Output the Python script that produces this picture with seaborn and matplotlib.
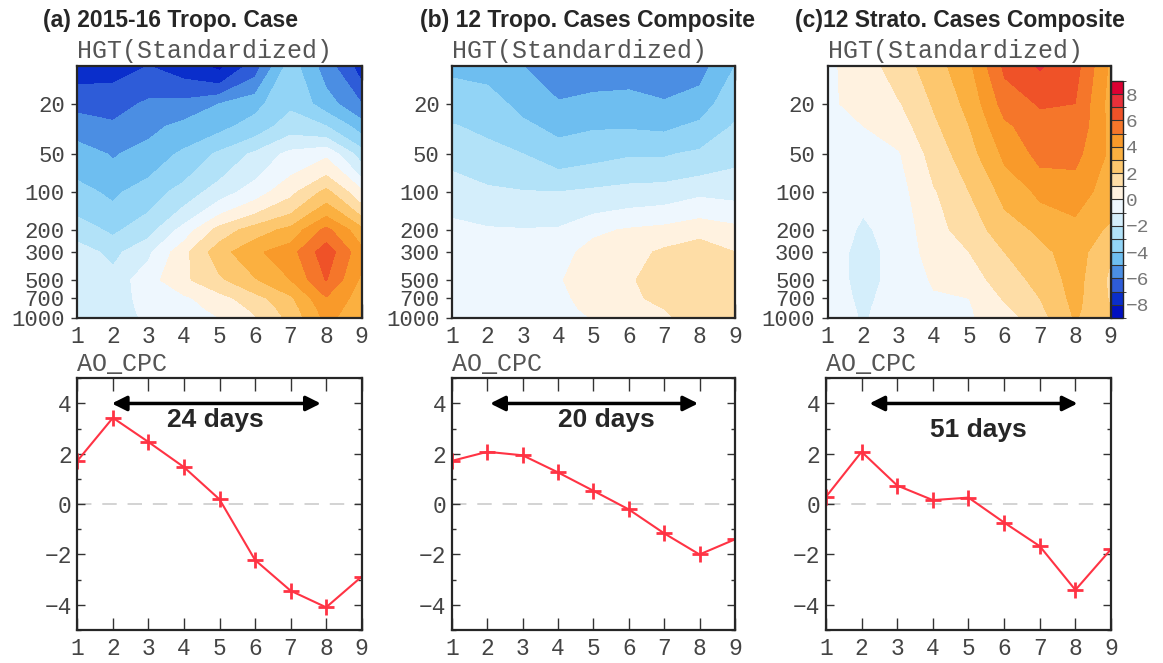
import numpy as np
import matplotlib
matplotlib.use("Agg")
import matplotlib.pyplot as plt
from matplotlib.colors import ListedColormap, BoundaryNorm
from matplotlib.ticker import FixedLocator, NullLocator, MultipleLocator
import seaborn as sns

# --- data -------------------------------------------------------------
days = [1, 2, 3, 4, 5, 6, 7, 8, 9]
levels = [1000, 850, 700, 500, 300, 200, 100, 50, 30, 20, 10]

# standardized HGT, rows = pressure levels (1000 -> 10 hPa), cols = days 1..9
hgt_a = [
    [-1.2, -1.8, -0.7, -0.3, 0.0, 0.9, 2.3, 4.3, 3.3],
    [-1.2, -1.7, -0.6, -0.3, 0.2, 1.2, 2.5, 4.5, 3.4],
    [-1.2, -1.5, -0.6, -0.2, 0.6, 1.6, 2.8, 4.9, 3.5],
    [-1.3, -1.6, -0.4, 0.8, 1.8, 2.9, 4.0, 6.05, 3.8],
    [-1.5, -2.3, -1.2, 0.7, 2.6, 3.8, 4.6, 6.6, 4.3],
    [-2.5, -3.2, -2.4, -0.6, 1.4, 2.5, 3.3, 5.3, 3.3],
    [-3.7, -4.2, -3.5, -2.6, -1.5, -0.5, 0.7, 2.3, 0.2],
    [-4.5, -5.1, -4.6, -3.8, -2.8, -1.8, -0.7, -0.2, -2.5],
    [-5.5, -5.8, -5.3, -4.7, -4.3, -3.6, -2.5, -3.0, -4.5],
    [-6.3, -6.5, -5.8, -5.7, -5.0, -4.3, -3.2, -4.5, -6.0],
    [-7.5, -7.3, -7.0, -7.5, -8.3, -6.5, -3.5, -5.5, -7.5],
]
hgt_b = [
    [-0.6, -0.6, -0.6, -0.4, 0.05, 0.5, 0.9, 1.3, 1.2],
    [-0.6, -0.6, -0.6, -0.4, 0.3, 0.7, 1.0, 1.4, 1.3],
    [-0.6, -0.6, -0.6, -0.3, 0.5, 0.85, 1.2, 1.5, 1.4],
    [-0.6, -0.6, -0.6, -0.1, 0.6, 0.9, 1.4, 1.6, 1.4],
    [-0.7, -0.7, -0.7, -0.4, 0.4, 0.6, 1.2, 1.5, 1.0],
    [-0.7, -0.9, -0.95, -0.9, -0.2, 0.1, 0.3, 0.7, 0.3],
    [-1.5, -1.8, -1.95, -2.0, -1.8, -1.6, -1.5, -1.2, -1.3],
    [-2.3, -2.7, -3.0, -3.5, -3.3, -3.1, -3.1, -2.8, -2.3],
    [-2.95, -3.2, -3.8, -4.3, -4.1, -4.1, -4.2, -3.8, -2.9],
    [-3.4, -3.6, -4.3, -4.9, -4.7, -4.6, -4.9, -4.5, -3.3],
    [-4.2, -4.3, -5.0, -5.7, -5.5, -5.5, -5.6, -5.4, -4.0],
]
hgt_c = [
    [-0.4, -1.1, -0.5, -0.4, -0.1, 0.5, 1.6, 3.1, 2.0],
    [-0.4, -1.15, -0.5, -0.3, -0.1, 0.8, 1.8, 3.2, 2.0],
    [-0.4, -1.25, -0.5, -0.1, 0.0, 1.1, 2.0, 3.3, 1.9],
    [-0.4, -1.4, -0.6, 0.1, 0.5, 1.5, 2.3, 3.4, 1.8],
    [-0.4, -1.4, -0.6, 0.4, 1.0, 2.0, 2.7, 3.5, 2.1],
    [-0.4, -1.15, -0.6, 0.6, 1.5, 2.5, 3.2, 3.7, 2.8],
    [-0.4, -0.8, -0.4, 0.9, 2.0, 3.3, 4.2, 4.4, 3.6],
    [-0.3, -0.3, -0.1, 1.4, 2.6, 4.2, 5.3, 5.3, 3.8],
    [-0.2, 0.0, 0.5, 1.8, 3.0, 4.8, 5.6, 5.8, 3.7],
    [-0.1, 0.2, 0.9, 2.1, 3.3, 5.4, 6.1, 6.0, 3.6],
    [-0.2, 0.5, 1.5, 2.5, 3.8, 6.2, 7.1, 6.4, 3.8],
]

ao_a = [1.72, 3.43, 2.47, 1.47, 0.19, -2.22, -3.44, -4.10, -2.88]
ao_b = [1.72, 2.08, 1.94, 1.26, 0.53, -0.21, -1.16, -2.00, -1.40]
ao_c = [0.29, 2.08, 0.74, 0.16, 0.26, -0.73, -1.67, -3.41, -1.79]

titles = ["(a) 2015-16 Tropo. Case", "(b) 12 Tropo. Cases Composite",
          "(c)12 Strato. Cases Composite"]
durations = ["24 days", "20 days", "51 days"]

p_ticks = [20, 50, 100, 200, 300, 500, 700, 1000]
cbar_ticks = [-8, -6, -4, -2, 0, 2, 4, 6, 8]
bounds = list(range(-9, 10))
colors = ["#0010C0", "#0A2ECB", "#2E5CD8", "#4B8EE3", "#6EBEF0", "#92D4F6",
          "#B2E2F8", "#D4EEFB", "#EEF7FE", "#FFF2E0", "#FEDDA6", "#FDC76E",
          "#FBB040", "#F99A2A", "#F5762A", "#EF5228", "#E8303A", "#DC0032"]

# --- style ------------------------------------------------------------
sns.set_style("ticks")
plt.rcParams["font.family"] = ["Liberation Mono", "DejaVu Sans"]
plt.rcParams["axes.linewidth"] = 1.6

cmap = ListedColormap(colors)
norm = BoundaryNorm(bounds, cmap.N)

fig = plt.figure(figsize=(11.63, 6.63), dpi=100)

top_pos = [[0.0665, 0.5204, 0.2445, 0.3805],
           [0.3889, 0.5204, 0.2431, 0.3805],
           [0.7117, 0.5204, 0.2432, 0.3805]]
bot_pos = [[0.0665, 0.0498, 0.2445, 0.3796],
           [0.3886, 0.0498, 0.2433, 0.3796],
           [0.7102, 0.0498, 0.2451, 0.3796]]
title_x = [0.037, 0.361, 0.6836]
arrow_span = [(1.97, 7.85), (2.08, 7.96), (2.22, 8.06)]
label_xy = [(4.87, 3.33), (5.37, 3.33), (5.29, 2.96)]

X, P = np.meshgrid(days, levels)
tick_col = "#444444"

for i, (field, ao) in enumerate(zip([hgt_a, hgt_b, hgt_c], [ao_a, ao_b, ao_c])):
    fig.text(title_x[i], 0.9588, titles[i], ha="left", va="baseline",
             fontfamily="Liberation Sans", fontweight="bold", fontsize=16.5)

    # height-time section
    ax = fig.add_axes(top_pos[i])
    cf = ax.contourf(X, P, np.array(field), levels=bounds, cmap=cmap, norm=norm)
    ax.set_yscale("log")
    ax.set_ylim(1000, 10)
    ax.set_xlim(1, 9)
    ax.yaxis.set_major_locator(FixedLocator(p_ticks))
    ax.yaxis.set_minor_locator(NullLocator())
    ax.set_yticklabels([str(p) for p in p_ticks])
    ax.set_xticks(days)
    ax.tick_params(axis="x", direction="in", top=True, length=10, width=1,
                   color="#333333", labelsize=16.5, labelcolor=tick_col, pad=5)
    ax.tick_params(axis="y", direction="out", length=4, width=1,
                   color="#333333", labelsize=16, labelcolor=tick_col, pad=5)
    ax.text(0, 1.029, "HGT(Standardized)", transform=ax.transAxes,
            ha="left", va="baseline", fontsize=18, color="#555555")

    # AO index
    ax2 = fig.add_axes(bot_pos[i])
    ax2.axhline(0, color="#d0d0d0", lw=1.3, dashes=(8, 6), zorder=0)
    sns.lineplot(x=days, y=ao, ax=ax2, color="#FF3344", lw=1.5, marker="+",
                 markersize=11, markeredgewidth=2, markeredgecolor="#FF3344")
    ax2.set_xlim(1, 9)
    ax2.set_ylim(-5, 5)
    ax2.set_xticks(days)
    ax2.set_yticks([-4, -2, 0, 2, 4])
    ax2.yaxis.set_minor_locator(MultipleLocator(1))
    ax2.tick_params(axis="x", direction="in", top=True, length=9, width=1,
                    color="#333333", labelsize=16.5, labelcolor=tick_col, pad=5)
    ax2.tick_params(axis="y", which="major", direction="in", right=True,
                    length=6, width=1, color="#333333", labelsize=16.5,
                    labelcolor=tick_col, pad=4)
    ax2.tick_params(axis="y", which="minor", direction="in", right=True,
                    length=3, width=1, color="#333333")
    ax2.set_xlabel("")
    ax2.set_ylabel("")
    ax2.text(0, 1.029, "AO_CPC", transform=ax2.transAxes,
             ha="left", va="baseline", fontsize=18, color="#555555")

    x0, x1 = arrow_span[i]
    ax2.annotate("", xy=(x1, 4), xytext=(x0, 4),
                 arrowprops=dict(arrowstyle="<|-|>", color="black", lw=2.5,
                                 mutation_scale=22, shrinkA=0, shrinkB=0))
    ax2.text(label_xy[i][0], label_xy[i][1], durations[i], ha="center",
             va="center", fontfamily="Liberation Sans", fontweight="bold",
             fontsize=19)

# colour bar next to panel (c)
cax = fig.add_axes([0.9549, 0.5204, 0.0107, 0.3575])
cb = fig.colorbar(cf, cax=cax, ticks=cbar_ticks, drawedges=True)
cb.outline.set_linewidth(1)
cb.dividers.set_color("#333333")
cb.dividers.set_linewidth(0.8)
cax.tick_params(length=0, labelsize=14, labelcolor="#777777", pad=2)

fig.savefig("out.png", dpi=100)
